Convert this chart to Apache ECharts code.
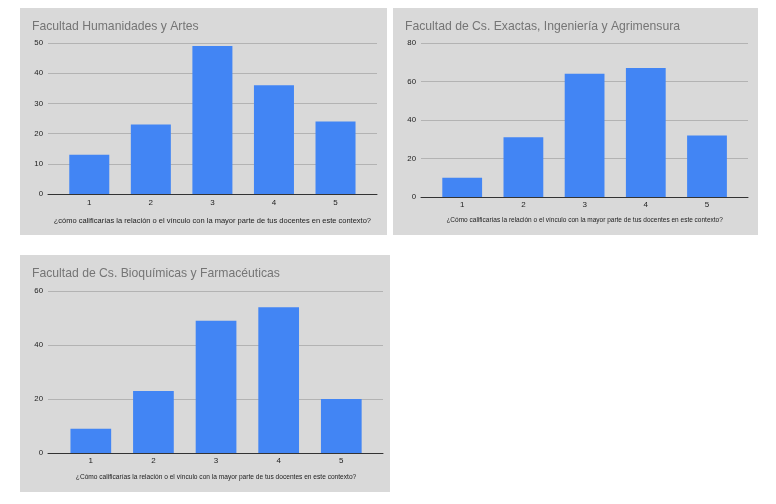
<!DOCTYPE html>
<html><head><meta charset="utf-8">
<script src="https://cdn.jsdelivr.net/npm/echarts@6/dist/echarts.min.js"></script>
<style>
html,body{margin:0;padding:0;background:#fff;width:776px;height:504px;overflow:hidden}
.p{position:absolute;background:#d9d9d9}
</style></head><body>
<div id="c1" class="p" style="left:20px;top:8px;width:367px;height:227px"></div>
<div id="c2" class="p" style="left:393px;top:8px;width:365px;height:227px"></div>
<div id="c3" class="p" style="left:20px;top:255px;width:370px;height:237px"></div>
<script>
const categories = ['1', '2', '3', '4', '5'];
const titles = [
  'Facultad Humanidades y Artes',
  'Facultad de Cs. Exactas, Ingeniería y Agrimensura',
  'Facultad de Cs. Bioquímicas y Farmacéuticas'
];
const axisNames = [
  '¿cómo calificarías la relación o el vínculo con la mayor parte de tus docentes en este contexto?',
  '¿Cómo calificarías la relación o el vínculo con la mayor parte de tus docentes en este contexto?',
  '¿Cómo calificarías la relación o el vínculo con la mayor parte de tus docentes en este contexto?'
];
const humanidades = [13, 23, 49, 36, 24];
const exactas = [10, 31, 64, 67, 32];
const bioquimicas = [9, 23, 49, 54, 20];
const yMax = [50, 80, 60];
const yInterval = [10, 20, 20];

const layouts = [
  {wide:{left:28,right:10,top:35,bottom:41}, narrow:{left:38.5,right:20.7,top:35,bottom:41},
   nameGap:22.5, nameSize:7.5, labelMargin:5, titleTop:13},
  {wide:{left:28,right:10,top:35,bottom:38}, narrow:{left:38.6,right:20.4,top:35,bottom:38},
   nameGap:19.5, nameSize:6.5, labelMargin:4, titleTop:13},
  {wide:{left:28,right:7,top:36,bottom:39}, narrow:{left:39.5,right:17.4,top:36,bottom:39},
   nameGap:21, nameSize:6.6, labelMargin:4, titleTop:13}
];
const datasets = [humanidades, exactas, bioquimicas];
const font = 'Liberation Sans, Arial, sans-serif';

['c1','c2','c3'].forEach((id, i) => {
  const chart = echarts.init(document.getElementById(id), null, {renderer:'canvas'});
  const L = layouts[i];
  chart.setOption({
    animation:false,
    backgroundColor:'#d9d9d9',
    title:{text:titles[i], left:12, top:L.titleTop, padding:0,
      textStyle:{fontFamily:font, fontSize:12.2, fontWeight:'normal', color:'#757575'}},
    grid:[L.wide, L.narrow],
    xAxis:[
      {type:'value', gridIndex:0, min:0, max:1, show:true,
        axisLine:{show:true, onZero:false, lineStyle:{color:'#333', width:1}},
        axisTick:{show:false}, axisLabel:{show:false}, splitLine:{show:false}},
      {type:'category', gridIndex:1, data:categories,
        name:axisNames[i], nameLocation:'middle', nameGap:L.nameGap,
        nameTextStyle:{fontFamily:font, fontSize:L.nameSize, color:'#222'},
        axisLine:{show:false}, axisTick:{show:false},
        axisLabel:{fontFamily:font, fontSize:8, color:'#222', margin:L.labelMargin}}
    ],
    yAxis:[
      {type:'value', gridIndex:0, min:0, max:yMax[i], interval:yInterval[i],
        axisLine:{show:false}, axisTick:{show:false},
        axisLabel:{fontFamily:font, fontSize:7.8, color:'#222', margin:5},
        splitLine:{lineStyle:{color:'#b3b3b3', width:1}}},
      {type:'value', gridIndex:1, min:0, max:yMax[i], interval:yInterval[i], show:false}
    ],
    series:[{type:'bar', xAxisIndex:1, yAxisIndex:1, data:datasets[i], barCategoryGap:'35%',
      itemStyle:{color:'#4285f4'}}]
  });
});
</script>
</body></html>
